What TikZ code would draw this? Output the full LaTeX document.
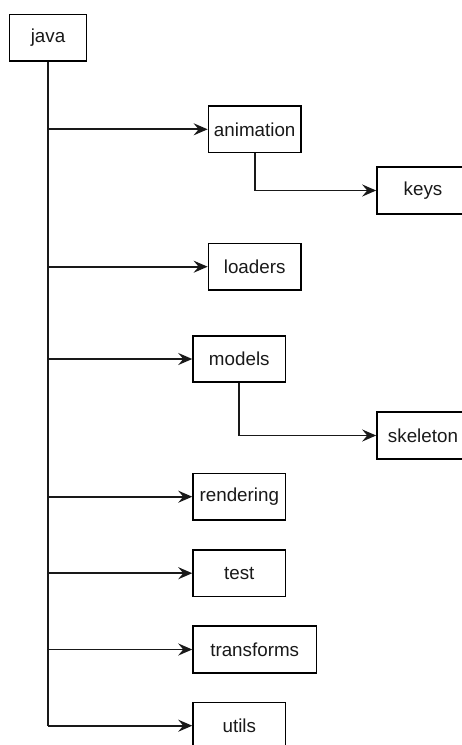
\documentclass[tikz,border=0pt]{standalone}
\usepackage{fontspec}
\setmainfont{Liberation Sans}
\usetikzlibrary{arrows.meta}
\begin{document}
\begin{tikzpicture}[x=1pt,y=-1pt,
  box/.style={draw=black, line width=1.6pt, fill=white, minimum height=46.5pt, minimum width=92.5pt, inner sep=0pt, font=\fontsize{18.8}{22}\selectfont, text=black!90},
  link/.style={draw=black!90, line width=1.8pt},
  arr/.style={link, -{Stealth[length=14pt, width=12pt, inset=5pt]}}]
\clip (0,0) rectangle (462,745);
\fill[white] (0,0) rectangle (462,745);
\node[box, minimum width=77.3pt] (java) at (48,37.7) {java};
\node[box] (animation) at (254.7,129.3) {animation};
\node[box, minimum width=92pt] (keys) at (423,190.5) {keys};
\node[box] (loaders) at (254.7,266.7) {loaders};
\node[box] (models) at (239.3,359) {models};
\node[box, minimum width=92pt] (skeleton) at (423,435.5) {skeleton};
\node[box] (rendering) at (239.3,496.7) {rendering};
\node[box] (test) at (239.3,573.2) {test};
\node[box, minimum width=123.3pt] (transforms) at (254.7,649.5) {transforms};
\node[box] (utils) at (239.3,725.7) {utils};
\draw[link] (java.south) -- (java.south |- utils.west);
\foreach \n in {animation,loaders,models,rendering,test,transforms,utils}
  \draw[arr] (java.south |- \n.west) -- (\n.west);
\draw[arr] (animation.south) |- (keys.west);
\draw[arr] (models.south) |- (skeleton.west);
\end{tikzpicture}
\end{document}
